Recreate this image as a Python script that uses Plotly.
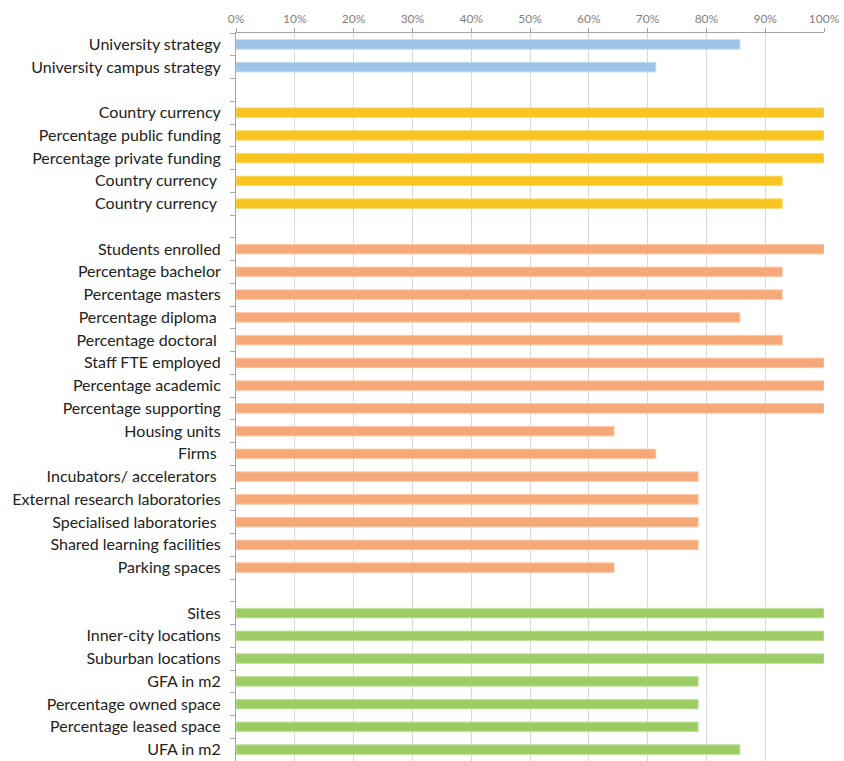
import plotly.graph_objects as go

NBSP = "\u00a0"
ZW = "\u200b"

strategy_labels = ["University strategy", "University campus strategy"]
strategy_values = [85.7, 71.4]

finance_labels = ["Country currency", "Percentage public funding", "Percentage private funding",
                  "Country currency" + NBSP, "Country currency" + NBSP + ZW]
finance_values = [100, 100, 100, 92.9, 92.9]

people_labels = ["Students enrolled", "Percentage bachelor", "Percentage masters",
                 "Percentage diploma" + NBSP, "Percentage doctoral" + NBSP, "Staff FTE employed",
                 "Percentage academic", "Percentage supporting", "Housing units", "Firms" + NBSP,
                 "Incubators/ accelerators" + NBSP, "External research laboratories",
                 "Specialised laboratories" + NBSP, "Shared learning facilities", "Parking spaces"]
people_values = [100, 92.9, 92.9, 85.7, 92.9, 100, 100, 100, 64.3, 71.4,
                 78.6, 78.6, 78.6, 78.6, 64.3]

space_labels = ["Sites", "Inner-city locations", "Suburban locations", "GFA in m2",
                "Percentage owned space", "Percentage leased space", "UFA in m2"]
space_values = [100, 100, 100, 78.6, 78.6, 78.6, 85.7]

groups = [
    (strategy_labels, strategy_values, "#9DC3E6", "#c5dcf1"),
    (finance_labels, finance_values, "#F8C520", "#fbdc7a"),
    (people_labels, people_values, "#F7A878", "#fbcaa9"),
    (space_labels, space_values, "#9CCC63", "#c4e29f"),
]

cats, vals, cols, lines = [], [], [], []
for gi, (labs, vs, c, lc) in enumerate(groups):
    if gi > 0:
        cats.append(ZW * gi + " ")
        vals.append(None)
        cols.append(c)
        lines.append(lc)
    cats += labs
    vals += vs
    cols += [c] * len(labs)
    lines += [lc] * len(labs)

fig = go.Figure(go.Bar(
    x=vals, y=cats, orientation="h",
    marker=dict(color=cols, line=dict(color=lines, width=1)),
    hoverinfo="x+y",
))

fig.update_layout(
    width=844, height=761,
    margin=dict(l=236, r=20, t=33, b=0, autoexpand=False),
    paper_bgcolor="white", plot_bgcolor="white",
    bargap=0.58, showlegend=False,
    font=dict(family="Lato", size=16, color="#222222"),
)
fig.update_xaxes(
    side="top", range=[0, 100], tickvals=list(range(0, 101, 10)),
    ticktext=[f"{v}%" for v in range(0, 101, 10)],
    tickfont=dict(size=12, color="#7f7f7f"),
    showgrid=True, gridcolor="#d9d9d9", gridwidth=1,
    showline=True, linecolor="#a6a6a6", linewidth=1,
    ticks="outside", ticklen=4, tickcolor="#a6a6a6",
    zeroline=False, fixedrange=True, automargin=False,
)
fig.update_yaxes(
    type="category", categoryorder="array", categoryarray=cats,
    autorange="reversed", automargin=False,
    showline=True, linecolor="#a6a6a6", linewidth=1,
    ticks="outside", tickson="boundaries", ticklen=5, tickcolor="#a6a6a6",
    showgrid=False, ticklabelstandoff=11,
    tickfont=dict(family="Lato", size=16, color="#222222"),
)

fig.write_html("out.html", config={"displayModeBar": False},
               post_script="document.body.style.margin='0';document.body.style.overflow='hidden';")
